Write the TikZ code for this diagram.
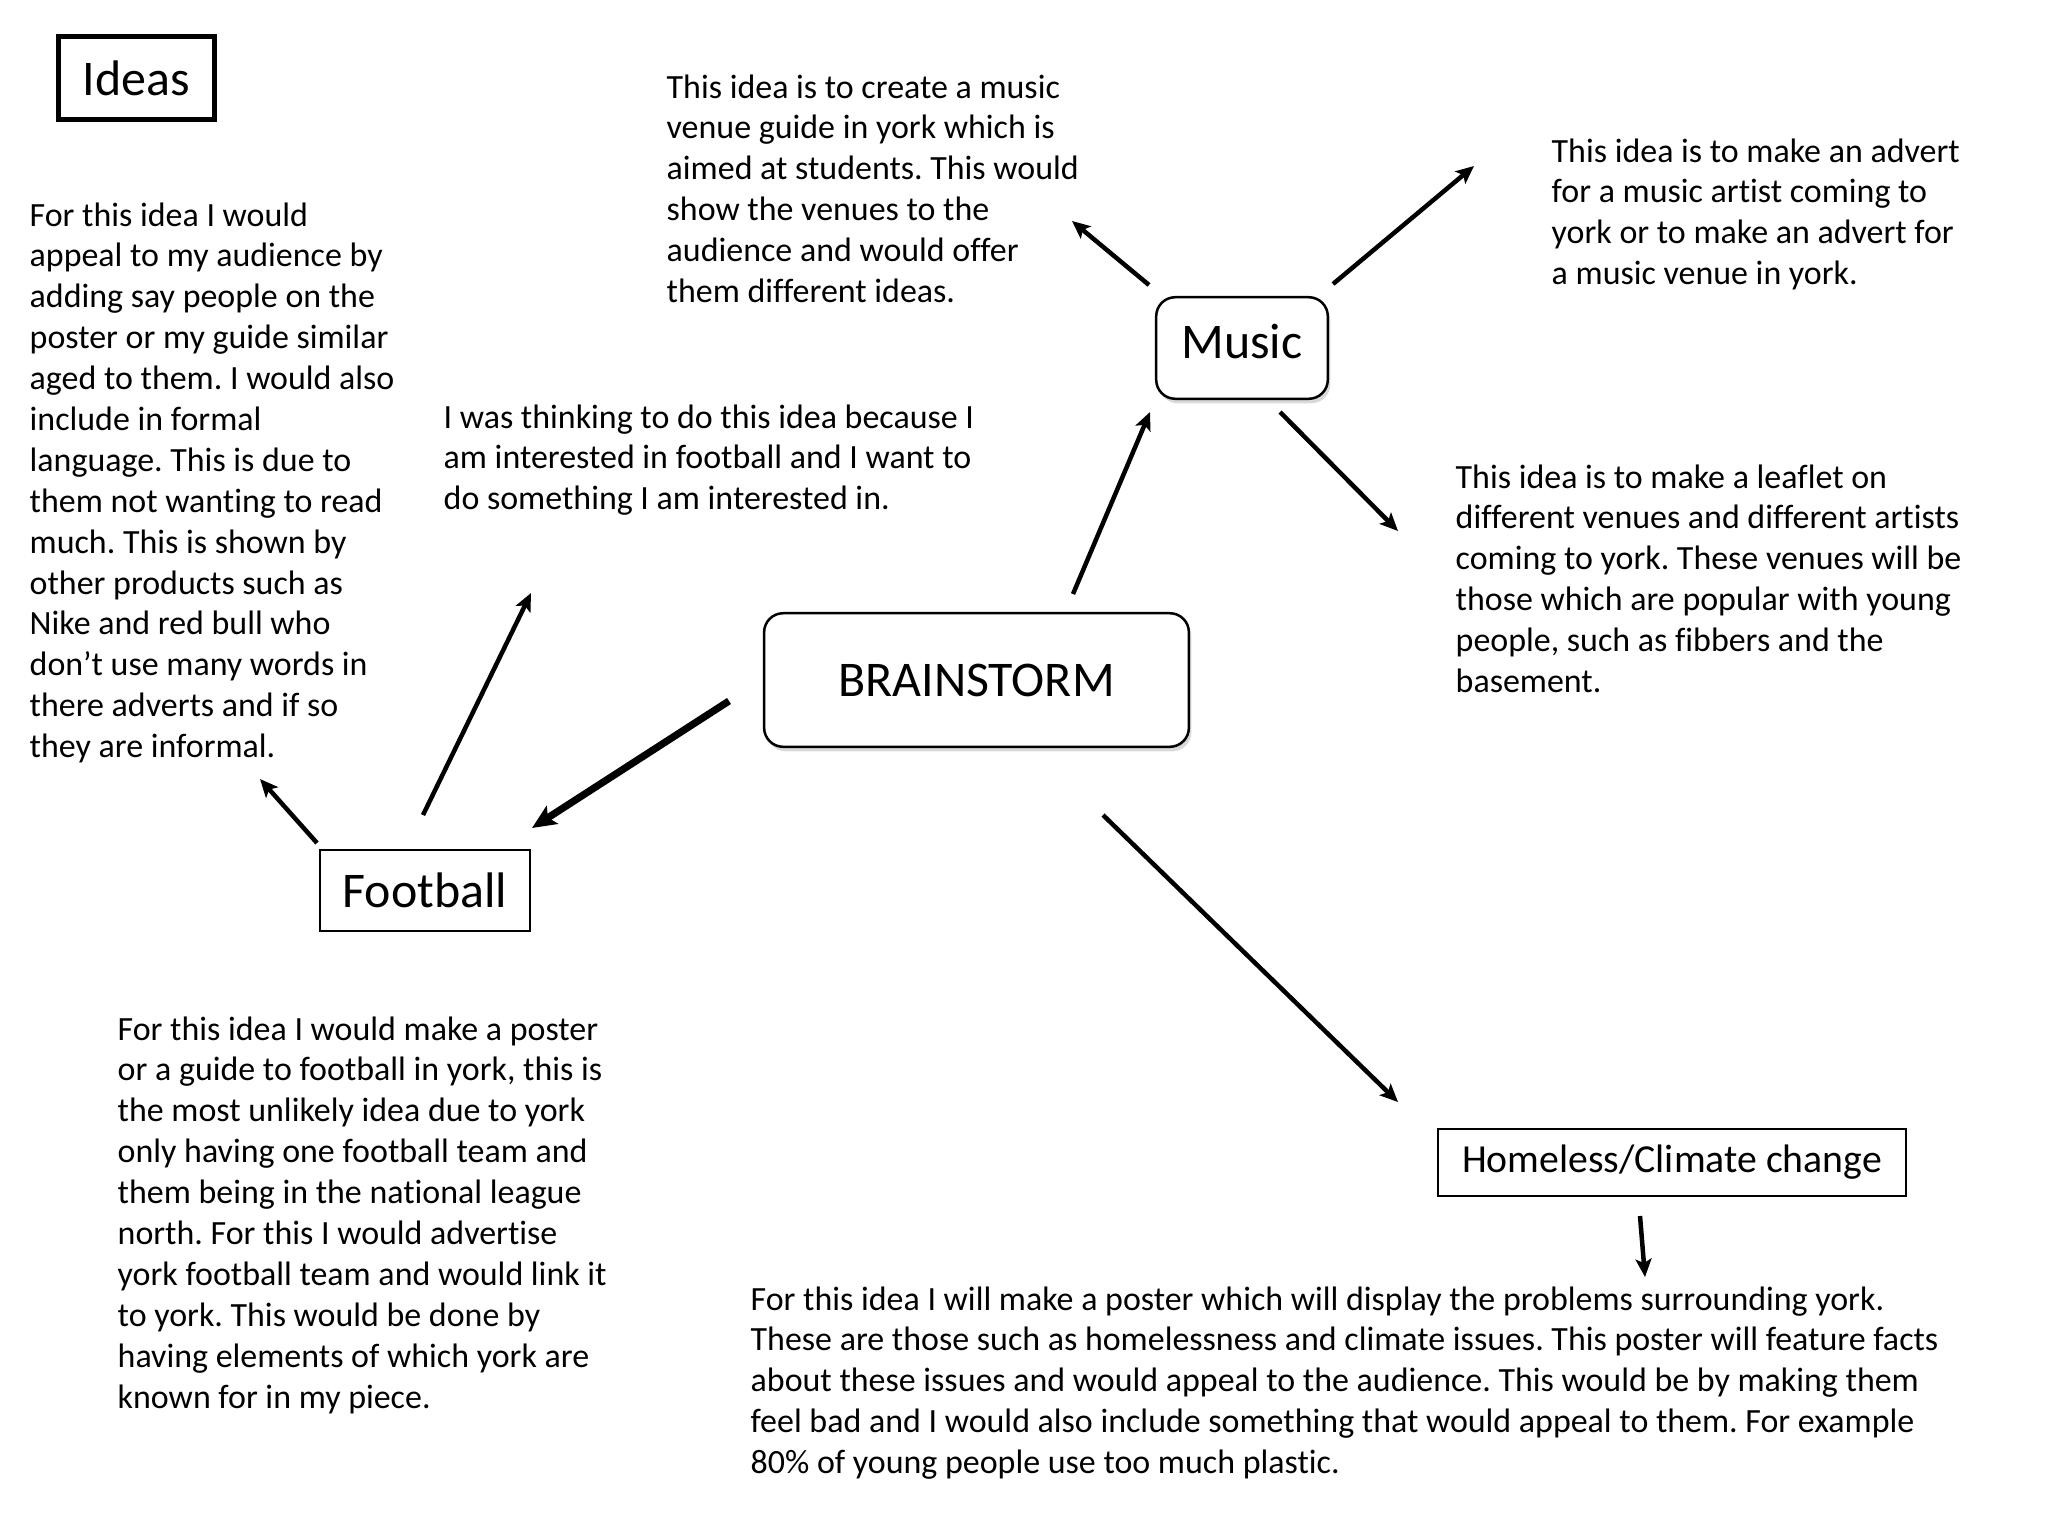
\documentclass[tikz,border=0pt]{standalone}
\usepackage{fontspec}
\setmainfont[Ligatures=NoCommon]{Carlito}
\usetikzlibrary{arrows.meta,shadows}
\newcommand\notefont{\fontsize{9.65}{11.63}\selectfont}
\newcommand\notelines[1]{\begin{tabular}[t]{@{}l@{}}#1\end{tabular}}
\frenchspacing

\begin{document}
\begin{tikzpicture}[x=0.01cm,y=-0.01cm,
  note/.style={anchor=base west,inner sep=0pt,font=\notefont},
  topic/.style={draw,line width=0.02cm,inner sep=0pt,fill=white,font=\fontsize{14.2}{17}\selectfont},
  hub/.style={topic,rounded corners=0.19cm,line width=0.025cm,
    drop shadow={shadow xshift=0.025cm,shadow yshift=-0.045cm,opacity=0.3}},
  link/.style={line width=0.045cm,-{Stealth[length=0.18cm,width=0.16cm,inset=0.04cm]}},
  biglink/.style={line width=0.072cm,-{Stealth[length=0.24cm,width=0.21cm,inset=0.05cm]}}]
\useasboundingbox (0,0) rectangle (2048,1536);

% boxes
\node[topic,line width=0.053cm,minimum width=1.56cm,minimum height=0.83cm] (ideas) at (136.5,78) {Ideas};
\node[hub,minimum width=4.245cm,minimum height=1.335cm] (brain) at (976.5,680) {BRAINSTORM};
\node[hub,minimum width=1.715cm,minimum height=1.015cm,text depth=0.14cm] (music) at (1242,348) {Music};
\node[topic,minimum width=2.1cm,minimum height=0.81cm] (football) at (425,890.5) {Football};
\node[topic,font=\fontsize{11.3}{13.6}\selectfont,minimum width=4.68cm,minimum height=0.67cm] (homeless) at (1672,1162.5) {Homeless/Climate change};

% notes
\node[note] (appeal) at (29,226) {\notelines{For this idea I would\\
appeal to my audience by\\
adding say people on the\\
poster or my guide similar\\
aged to them. I would also\\
include in formal\\
language. This is due to\\
them not wanting to read\\
much. This is shown by\\
other products such as\\
Nike and red bull who\\
don’t use many words in\\
there adverts and if so\\
they are informal.}};
\node[note] (guide) at (666,98) {\notelines{This idea is to create a music\\
venue guide in york which is\\
aimed at students. This would\\
show the venues to the\\
audience and would offer\\
them different ideas.}};
\node[note] (advert) at (1551,162) {\notelines{This idea is to make an advert\\
for a music artist coming to\\
york or to make an advert for\\
a music venue in york.}};
\node[note] (reason) at (443,428) {\notelines{I was thinking to do this idea because I\\
am interested in football and I want to\\
do something I am interested in.}};
\node[note] (leaflet) at (1455,488) {\notelines{This idea is to make a leaflet on\\
different venues and different artists\\
coming to york. These venues will be\\
those which are popular with young\\
people, such as fibbers and the\\
basement.}};
\node[note] (poster) at (117,1040) {\notelines{For this idea I would make a poster\\
or a guide to football in york, this is\\
the most unlikely idea due to york\\
only having one football team and\\
them being in the national league\\
north. For this I would advertise\\
york football team and would link it\\
to york. This would be done by\\
having elements of which york are\\
known for in my piece.}};
\node[note] (issues) at (750,1310) {\notelines{For this idea I will make a poster which will display the problems surrounding york.\\
These are those such as homelessness and climate issues. This poster will feature facts\\
about these issues and would appeal to the audience. This would be by making them\\
feel bad and I would also include something that would appeal to them. For example\\
80\% of young people use too much plastic.}};

% arrows
\coordinate (musicA) at (1149,285); \coordinate (guideTip) at (1072,221);
\coordinate (musicB) at (1333,284); \coordinate (advertTip) at (1474,166);
\coordinate (musicC) at (1280,412); \coordinate (leafletTip) at (1398,531);
\coordinate (brainA) at (1073,594); \coordinate (musicTip) at (1150,412);
\coordinate (brainB) at (729,701); \coordinate (footballTip) at (532,828);
\coordinate (brainC) at (1103,815); \coordinate (homelessTip) at (1398,1102);
\coordinate (footballA) at (423,815); \coordinate (reasonTip) at (531,593);
\coordinate (footballB) at (317,843); \coordinate (appealTip) at (260,779);
\coordinate (homelessA) at (1640,1216); \coordinate (issuesTip) at (1645,1277);
\foreach \from/\to in {musicA/guideTip,musicB/advertTip,musicC/leafletTip,brainA/musicTip,
  brainC/homelessTip,footballA/reasonTip,footballB/appealTip,homelessA/issuesTip}{
	\draw[link] (\from) -- (\to);
}
\draw[biglink] (brainB) -- (footballTip);
\end{tikzpicture}
\end{document}
